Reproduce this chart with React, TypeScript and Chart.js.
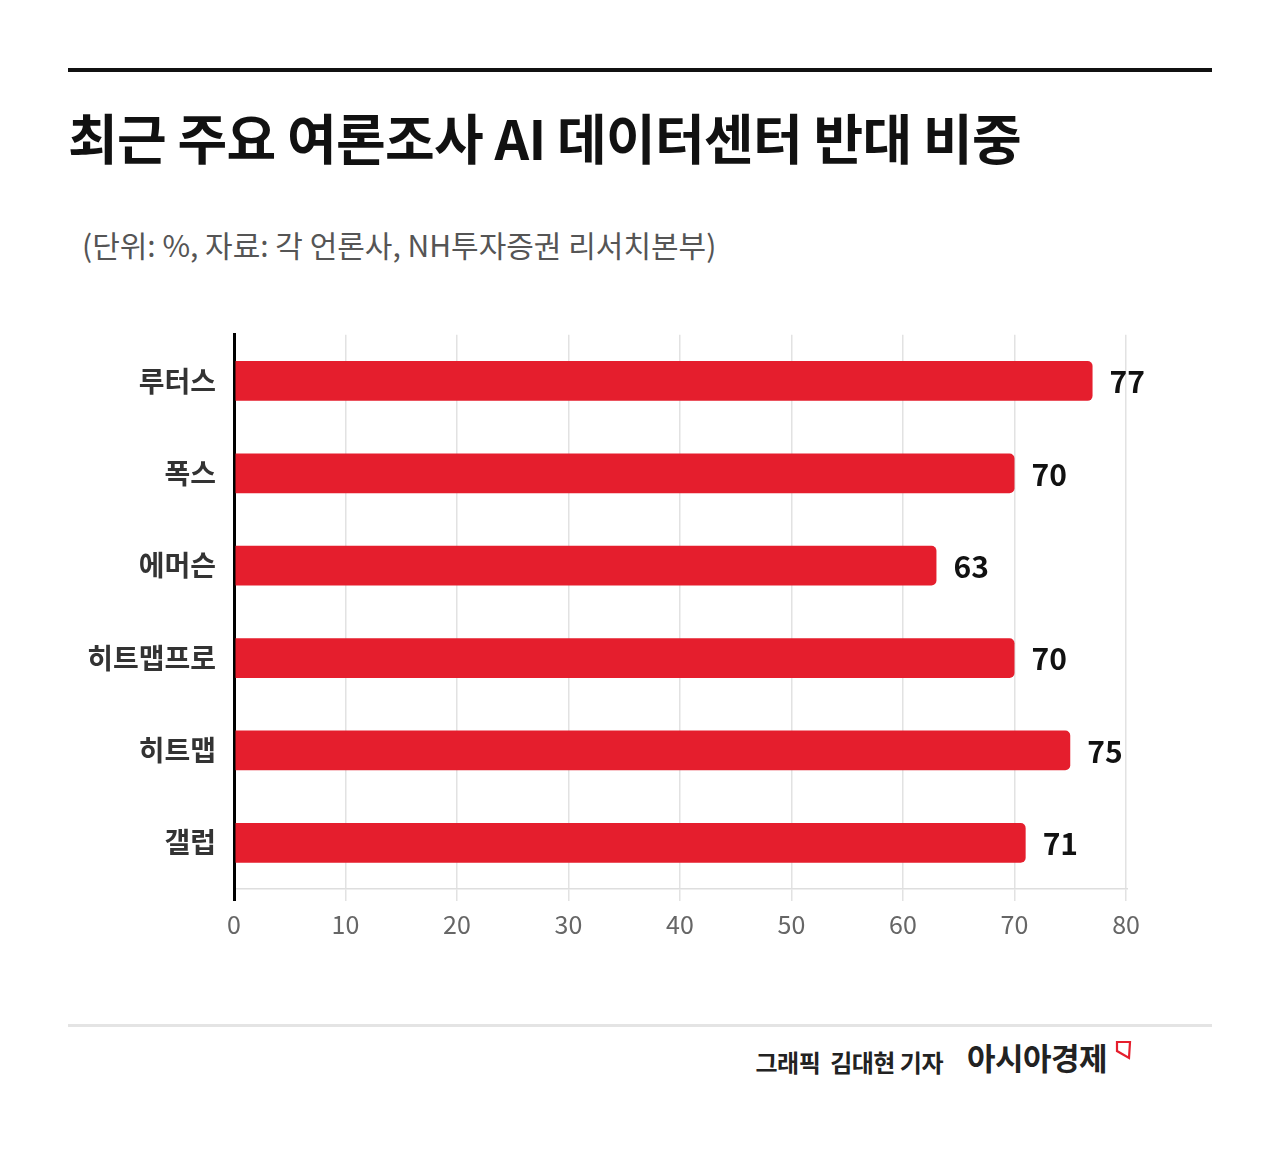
import { useEffect, useRef } from "react";
import { Chart, registerables } from "chart.js";

Chart.register(...registerables);

const pollsters = ["루터스", "폭스", "에머슨", "히트맵프로", "히트맵", "갤럽"];
const opposeShare = [77, 70, 63, 70, 75, 71];
const axisTicks = [0, 10, 20, 30, 40, 50, 60, 70, 80];

const FONT = '"Noto Sans CJK KR", "Noto Sans", sans-serif';
const BAR_RED = "#e51e2d";

// writes the value to the right of each bar
const valueLabels = {
  id: "valueLabels",
  afterDatasetsDraw(chart: Chart) {
    const ctx = chart.ctx;
    const meta = chart.getDatasetMeta(0);
    ctx.save();
    ctx.font = `700 30px ${FONT}`;
    ctx.fillStyle = "#111";
    ctx.textAlign = "left";
    ctx.textBaseline = "middle";
    meta.data.forEach((bar: any, i: number) => {
      ctx.fillText(String(opposeShare[i]), bar.x + 17, bar.y + 1);
    });
    ctx.restore();
  },
};

function OpposeChart() {
  const canvasRef = useRef<HTMLCanvasElement>(null);
  const chartRef = useRef<Chart | null>(null);

  useEffect(() => {
    if (!canvasRef.current) return;
    if (chartRef.current) chartRef.current.destroy();

    chartRef.current = new Chart(canvasRef.current, {
      type: "bar",
      data: {
        labels: pollsters,
        datasets: [
          {
            data: opposeShare,
            backgroundColor: BAR_RED,
            borderRadius: 5,
            borderSkipped: "start",
            barPercentage: 0.43,
            categoryPercentage: 1,
          },
        ],
      },
      options: {
        indexAxis: "y",
        animation: false,
        responsive: false,
        maintainAspectRatio: false,
        devicePixelRatio: 1,
        layout: { padding: { top: 12, right: 54, left: 0, bottom: 0 } },
        plugins: {
          legend: { display: false },
          tooltip: { enabled: false },
        },
        scales: {
          x: {
            min: 0,
            max: 80,
            afterBuildTicks: (scale: any) => {
              scale.ticks = axisTicks.map((v) => ({ value: v }));
            },
            afterFit: (scale: any) => {
              scale.height = 60;
            },
            grid: {
              color: (c: any) => (c.tick && c.tick.value === 0 ? "#000" : "#e2e2e2"),
              lineWidth: (c: any) => (c.tick && c.tick.value === 0 ? 3 : 1.5),
              tickLength: 12,
            },
            border: { display: true, color: "#dedede", width: 1.5 },
            ticks: {
              color: "#666",
              font: { family: FONT, size: 25, weight: 400 },
              padding: 8,
            },
          },
          y: {
            afterFit: (scale: any) => {
              scale.width = 174;
            },
            grid: { display: false, drawTicks: false },
            border: { display: true, color: "#000", width: 3 },
            ticks: {
              color: "#333",
              font: { family: FONT, size: 28, weight: 700 },
              padding: 18,
            },
          },
        },
      },
      plugins: [valueLabels],
    });

    return () => {
      if (chartRef.current) {
        chartRef.current.destroy();
        chartRef.current = null;
      }
    };
  }, []);

  return <canvas ref={canvasRef} width={1120} height={649} style={{ display: "block" }} />;
}

export default function App() {
  useEffect(() => {
    document.body.style.margin = "0";
  }, []);

  return (
    <div
      style={{
        position: "relative",
        width: 1280,
        height: 1161,
        background: "#fff",
        fontFamily: FONT,
        overflow: "hidden",
      }}
    >
      <div style={{ position: "absolute", left: 68, top: 68, width: 1144, height: 4, background: "#111" }} />
      <div
        style={{
          position: "absolute",
          left: 68,
          top: 99,
          fontSize: 54,
          fontWeight: 700,
          color: "#111",
          letterSpacing: -0.7,
          lineHeight: "76px",
          whiteSpace: "nowrap",
        }}
      >
        최근 주요 여론조사 AI 데이터센터 반대 비중
      </div>
      <div
        style={{
          position: "absolute",
          left: 82,
          top: 224,
          fontSize: 30,
          fontWeight: 400,
          color: "#555",
          letterSpacing: 0,
          lineHeight: "40px",
          whiteSpace: "nowrap",
        }}
      >
        (단위: %, 자료: 각 언론사, NH투자증권 리서치본부)
      </div>

      <div style={{ position: "absolute", left: 60, top: 300 }}>
        <OpposeChart />
      </div>

      <div style={{ position: "absolute", left: 68, top: 1024, width: 1144, height: 3, background: "#e4e4e4" }} />
      <div
        style={{
          position: "absolute",
          right: 1280 - 943,
          top: 1045,
          fontSize: 24,
          fontWeight: 700,
          color: "#222",
          letterSpacing: -0.5,
          lineHeight: "34px",
          whiteSpace: "pre",
        }}
      >
        {"그래픽  김대현 기자"}
      </div>
      <div
        style={{
          position: "absolute",
          left: 967,
          top: 1036,
          fontSize: 31,
          fontWeight: 700,
          color: "#222",
          letterSpacing: -0.5,
          lineHeight: "42px",
          whiteSpace: "nowrap",
        }}
      >
        아시아경제
      </div>
      <svg style={{ position: "absolute", left: 1114, top: 1039 }} width={20} height={22}>
        <polygon points="3,3 16,3 15,19 3,12" fill="none" stroke="#e51e2d" strokeWidth={2.2} strokeLinejoin="miter" />
      </svg>
    </div>
  );
}
